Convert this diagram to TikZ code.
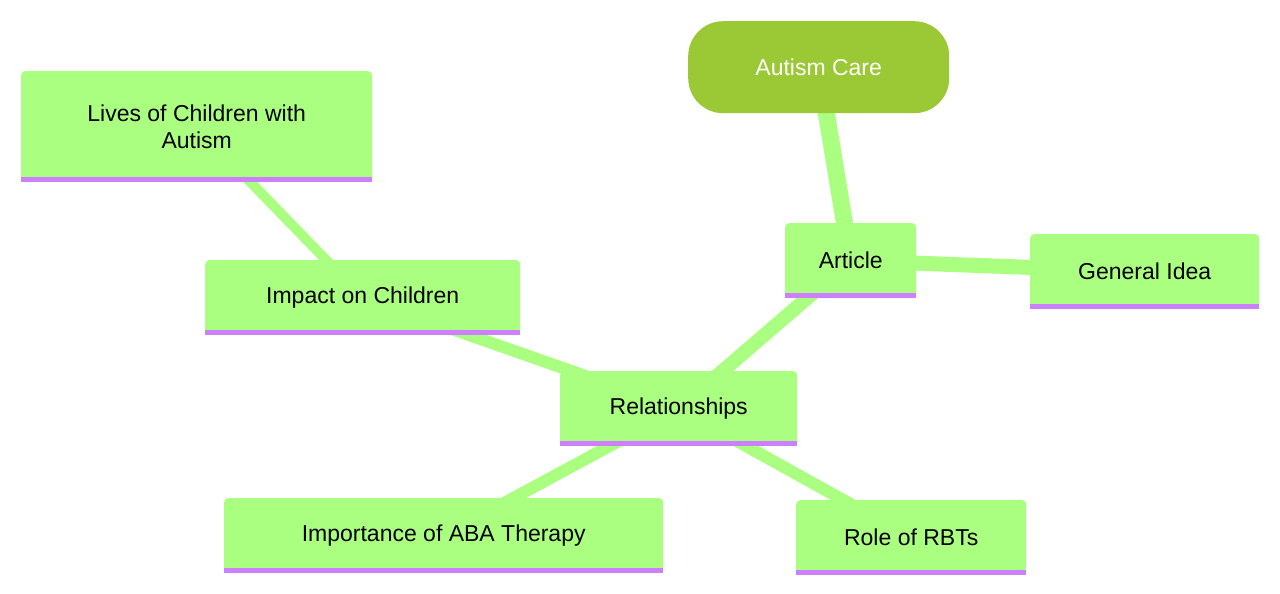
\documentclass[tikz,border=0pt]{standalone}
\usepackage{fontspec}
\setmainfont{Liberation Sans}
\usetikzlibrary{backgrounds}
\definecolor{leaf}{HTML}{AAFF80}
\definecolor{rootc}{HTML}{9BC835}
\definecolor{edge}{HTML}{CC80FF}
\begin{document}
\begin{tikzpicture}[x=1pt,y=-1pt,
  box/.style={fill=leaf,rounded corners=4pt,font=\fontsize{23}{27}\selectfont,align=center,anchor=north west,inner sep=0pt},
  link/.style={draw=leaf,line cap=butt}]
\useasboundingbox (0,0) rectangle (1280,594);
\node[fill=rootc,rounded corners=35pt,minimum width=261pt,minimum height=92pt,text=white,font=\fontsize{23}{27}\selectfont,anchor=north west,inner sep=0pt] (root) at (688,21) {Autism Care};
\newcommand\leafbox[6]{%
  \node[box,minimum width=#4pt,minimum height=#5pt] (#1) at (#2,#3) {#6};
  \fill[edge] (#2,#3+#5-5) rectangle (#2+#4,#3+#5);}
\leafbox{art}{785}{223}{131}{75}{Article}
\leafbox{gen}{1030}{234}{229}{75}{General Idea}
\leafbox{lives}{21}{71}{351}{111}{Lives of Children with\\Autism}
\leafbox{imp}{205}{260}{315}{75}{Impact on Children}
\leafbox{rel}{560}{371}{237}{75}{Relationships}
\leafbox{aba}{224}{498}{439}{75}{Importance of ABA Therapy}
\leafbox{rbt}{796}{500}{230}{75}{Role of RBTs}
\begin{scope}[on background layer]
\draw[link,line width=17pt] (root.center) -- (art.center);
\draw[link,line width=15pt] (art.center) -- (gen.center);
\draw[link,line width=14pt] (art.center) -- (rel.center);
\draw[link,line width=12pt] (rel.center) -- (imp.center);
\draw[link,line width=12pt] (rel.center) -- (aba.center);
\draw[link,line width=12pt] (rel.center) -- (rbt.center);
\draw[link,line width=10pt] (imp.center) -- (lives.center);
\end{scope}
\end{tikzpicture}
\end{document}
